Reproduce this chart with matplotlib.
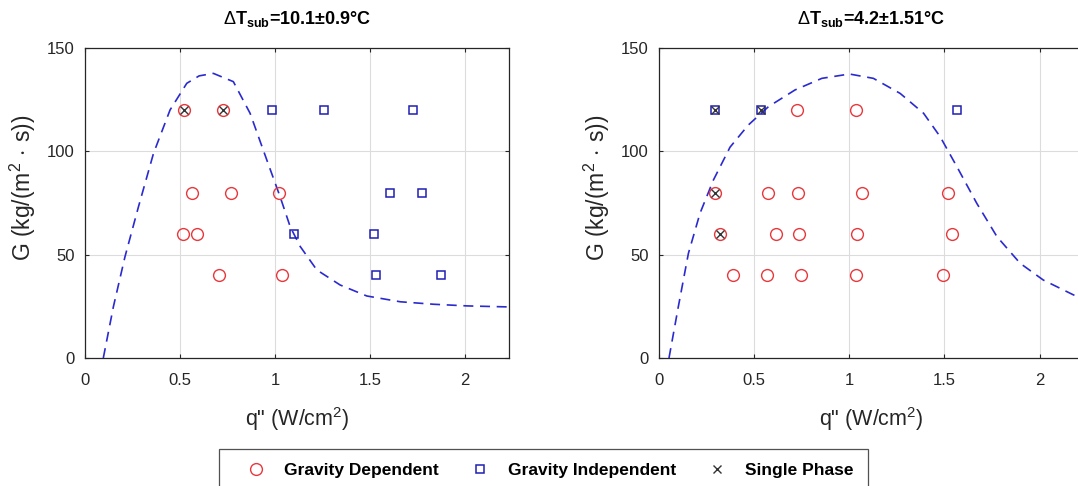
import matplotlib
matplotlib.use("Agg")
import matplotlib.pyplot as plt
from matplotlib.lines import Line2D

plt.rcParams['font.family'] = ['Liberation Sans', 'DejaVu Sans']
plt.rcParams['mathtext.fontset'] = 'custom'
plt.rcParams['mathtext.rm'] = 'Liberation Sans'
plt.rcParams['mathtext.it'] = 'Liberation Sans'
plt.rcParams['mathtext.bf'] = 'Liberation Sans:bold'

# ---------------------------------------------------------------
# Left panel: dT_sub = 10.1 +- 0.9 C
left_dep_q = [0.523, 0.725, 0.561, 0.767, 1.019, 0.514, 0.591, 0.707, 1.037]
left_dep_G = [120, 120, 80, 80, 80, 60, 60, 40, 40]
left_indep_q = [0.982, 1.256, 1.726, 1.605, 1.770, 1.098, 1.519, 1.528, 1.870]
left_indep_G = [120, 120, 120, 80, 80, 60, 60, 40, 40]
left_single_q = [0.523, 0.725]
left_single_G = [120, 120]
left_curve_q = [0.096, 0.149, 0.21, 0.281, 0.36, 0.447, 0.535, 0.60, 0.675,
                0.78, 0.868, 0.956, 1.026, 1.079, 1.132, 1.219, 1.342, 1.482,
                1.658, 1.833, 2.009, 2.23]
left_curve_G = [0, 24.8, 49, 73.2, 99, 120, 132.9, 136.5, 137.7,
                133.7, 118.4, 95.8, 78, 63.5, 53.9, 42.6, 35.3, 30,
                27.2, 26, 25.2, 24.7]

# Right panel: dT_sub = 4.2 +- 1.51 C
right_dep_q = [0.726, 1.032, 0.291, 0.572, 0.728, 1.065, 1.518,
               0.318, 0.613, 0.737, 1.039, 1.539,
               0.390, 0.567, 0.744, 1.032, 1.490]
right_dep_G = [120, 120, 80, 80, 80, 80, 80,
               60, 60, 60, 60, 60,
               40, 40, 40, 40, 40]
right_indep_q = [0.295, 0.537, 1.568]
right_indep_G = [120, 120, 120]
right_single_q = [0.295, 0.537, 0.291, 0.318]
right_single_G = [120, 120, 80, 60]
right_curve_q = [0.051, 0.10, 0.153, 0.214, 0.284, 0.372, 0.468, 0.574, 0.714,
                 0.855, 1.0, 1.126, 1.267, 1.39, 1.477, 1.565, 1.67, 1.776,
                 1.898, 2.02, 2.179, 2.25]
right_curve_G = [0, 24.8, 50.6, 70, 86, 102, 112.7, 121.6, 129.7,
                 135.3, 137.4, 135.3, 128, 118.4, 107.1, 92.6, 74.8, 58.7,
                 45.8, 37.7, 30.5, 28.3]

titles = [r'$\Delta\mathbf{T}_{\mathbf{sub}}$=10.1±0.9°C',
          r'$\Delta\mathbf{T}_{\mathbf{sub}}$=4.2±1.51°C']
x_ticks = [0, 0.5, 1, 1.5, 2]
x_tick_labels = ['0', '0.5', '1', '1.5', '2']
y_ticks = [0, 50, 100, 150]

red = '#e8383c'
blue = '#1f1fb4'
line_blue = '#2a2ad0'
dark = '#262626'

panels = [
    (left_dep_q, left_dep_G, left_indep_q, left_indep_G,
     left_single_q, left_single_G, left_curve_q, left_curve_G),
    (right_dep_q, right_dep_G, right_indep_q, right_indep_G,
     right_single_q, right_single_G, right_curve_q, right_curve_G),
]

fig = plt.figure(figsize=(10.78, 4.86), dpi=100)
ax_left = fig.add_axes([0.0789, 0.2634, 0.3933, 0.6379])
ax_right = fig.add_axes([0.6116, 0.2634, 0.3933, 0.6379])

for ax, data, title in zip([ax_left, ax_right], panels, titles):
    dq, dG, iq, iG, sq, sG, cq, cG = data
    ax.plot(cq, cG, linestyle=(0, (6, 4)), color=line_blue, lw=1.2, zorder=2)
    ax.plot(dq, dG, 'o', mfc='none', mec=red, ms=8.5, mew=1.0, zorder=3)
    ax.plot(iq, iG, 's', mfc='none', mec=blue, ms=6, mew=1.1, zorder=3)
    ax.plot(sq, sG, 'x', color='#333333', ms=6, mew=1.0, zorder=4)

    ax.set_xlim(0, 2.23)
    ax.set_ylim(0, 150)
    ax.set_xticks(x_ticks)
    ax.set_xticklabels(x_tick_labels)
    ax.set_yticks(y_ticks)
    ax.grid(True, color='#dcdcdc', lw=0.8)
    ax.set_axisbelow(True)
    ax.tick_params(direction='in', length=3, width=0.8, colors=dark,
                   labelsize=12, top=True, right=True)
    ax.tick_params(axis='x', pad=11)
    ax.tick_params(axis='y', pad=7.5)
    for sp in ax.spines.values():
        sp.set_color(dark)
        sp.set_linewidth(0.9)
    ax.set_xlabel('q" (W/cm$^2$)', fontsize=15.5, color=dark, labelpad=12)
    ax.set_ylabel(r'G (kg/(m$^2$$\,\cdot\,$s))', fontsize=16.5, color=dark)
    ax.yaxis.set_label_coords(-0.112, 0.55)
    ax.set_title(title, fontsize=13, fontweight='bold', pad=17)

legend_elements = [
    Line2D([0], [0], marker='o', linestyle='none', mfc='none', mec=red,
           ms=8.5, mew=1.0, label='Gravity Dependent'),
    Line2D([0], [0], marker='s', linestyle='none', mfc='none', mec=blue,
           ms=6, mew=1.1, label='Gravity Independent'),
    Line2D([0], [0], marker='x', linestyle='none', color='#333333',
           ms=6, mew=1.0, label='Single Phase'),
]
leg = fig.legend(handles=legend_elements, loc='upper center',
                 bbox_to_anchor=(0.504, 0.0761), ncol=3, frameon=True,
                 fancybox=False, edgecolor=dark, handlelength=2.65,
                 handletextpad=0.3, columnspacing=1.03, borderpad=0.8,
                 borderaxespad=0, prop={'weight': 'bold', 'size': 12.5})
leg.get_frame().set_linewidth(0.9)

fig.savefig('out.png', dpi=100)
